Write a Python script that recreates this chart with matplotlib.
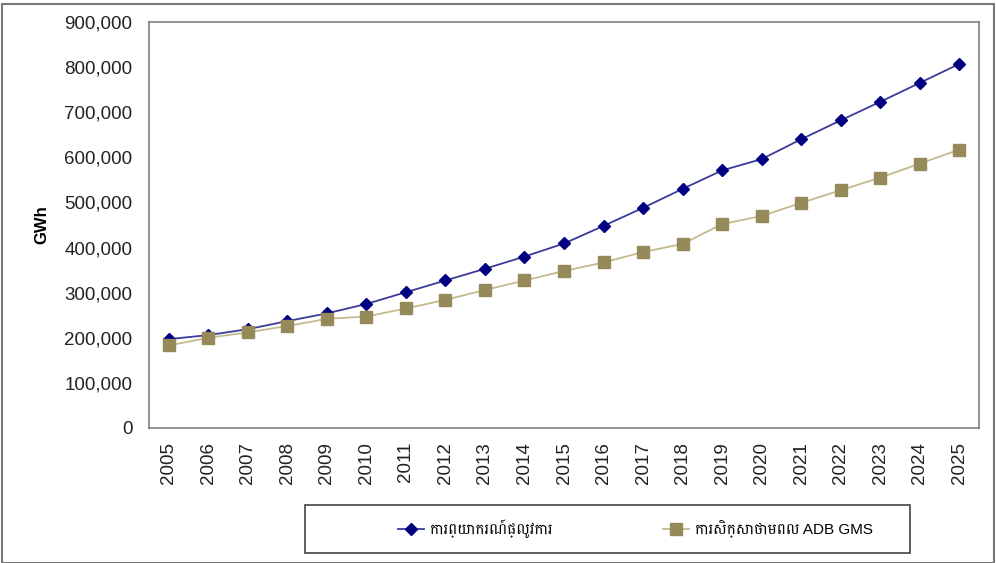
import matplotlib
matplotlib.use("Agg")
import matplotlib.pyplot as plt
from matplotlib.patches import Rectangle
from matplotlib.ticker import FuncFormatter

# Electricity demand forecast, GWh
years = [str(y) for y in range(2005, 2026)]
official_forecast = [197000, 206000, 219000, 237000, 254000, 275000, 301000,
                     327000, 353000, 380000, 409000, 448000, 488000, 530000,
                     571000, 596000, 640000, 682000, 723000, 765000, 807000]
adb_gms_study = [183000, 200000, 212000, 226000, 242000, 247000, 265000,
                 284000, 306000, 327000, 348000, 367000, 390000, 408000,
                 452000, 470000, 499000, 527000, 555000, 586000, 617000]

label_official = "ការព្យាករណ៍ផ្លូវការ"
label_adb = "ការសិក្សាថាមពល ADB GMS"

plt.rcParams["font.family"] = ["Liberation Sans", "Battambang"]

W, H = 996, 563
fig = plt.figure(figsize=(W / 100, H / 100), dpi=100)
ax = fig.add_axes([149 / W, 1 - 428 / H, 830 / W, 406 / H])

x = range(len(years))
ax.plot(x, official_forecast, color="#3b3b9c", lw=1.3, marker="D", ms=6,
        mfc="#000080", mec="#000080", label=label_official)
ax.plot(x, adb_gms_study, color="#c4ba8e", lw=1.3, marker="s", ms=8,
        mfc="#978a5a", mec="#978a5a", label=label_adb)

ax.set_xlim(-0.5, len(years) - 0.5)
ax.set_ylim(0, 900000)
ax.set_yticks(range(0, 900001, 100000))
ax.yaxis.set_major_formatter(FuncFormatter(lambda v, p: f"{int(v):,}"))
ax.set_xticks(list(x))
ax.set_xticklabels(years, rotation=90)
ax.tick_params(axis="both", length=0, labelsize=13.5, labelcolor="#222222")
ax.tick_params(axis="y", pad=12)
ax.tick_params(axis="x", pad=10)
for s in ax.spines.values():
    s.set_color("#808080")
    s.set_linewidth(1.2)

ax.set_ylabel("GWh", fontsize=12, fontweight="bold")
ax.yaxis.set_label_coords(-0.12, 0.5)

# legend entries without frame, box drawn separately
leg = fig.legend(loc="center left", bbox_to_anchor=(398 / W, 1 - 529 / H),
                 ncol=2, frameon=False, fontsize=11, handlelength=1.7,
                 handletextpad=0.4, columnspacing=7.2, borderaxespad=0,
                 borderpad=0)
fig.patches.append(Rectangle((305 / W, 1 - 553 / H), 605 / W, 48 / H,
                             transform=fig.transFigure, fill=False,
                             edgecolor="#444444", lw=1.2))

fig.patches.append(Rectangle((0.002, 0.0), 0.996, 0.993, transform=fig.transFigure,
                             fill=False, edgecolor="#777777", lw=1.5))

fig.savefig("out.png", dpi=100)
